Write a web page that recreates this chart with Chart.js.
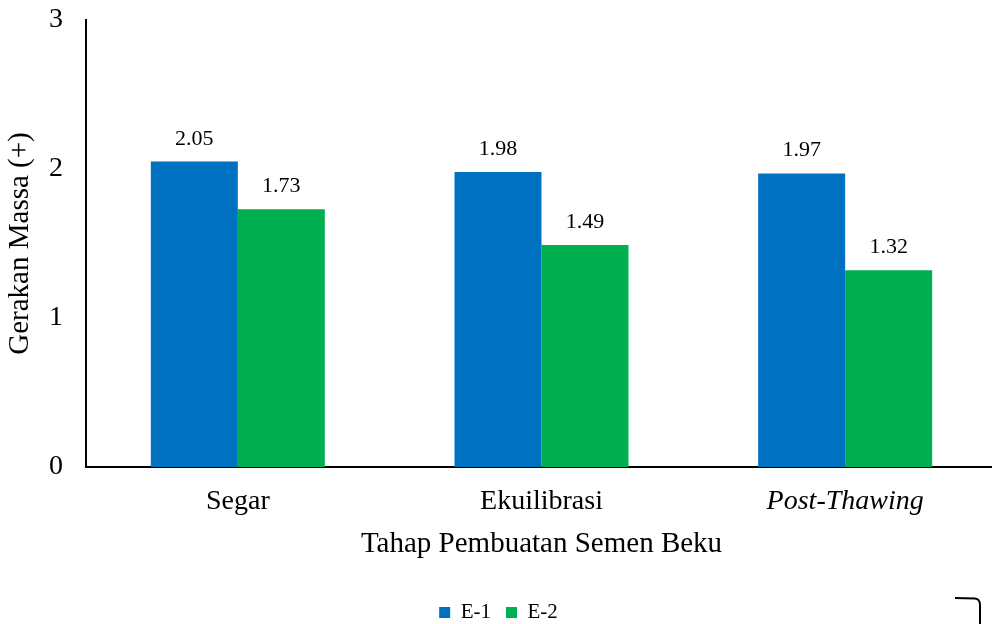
<!DOCTYPE html>
<html>
<head>
<meta charset="utf-8">
<script src="https://cdn.jsdelivr.net/npm/chart.js@4"></script>
<style>
  html, body { margin: 0; padding: 0; background: #fff; overflow: hidden; }
  #wrap { width: 1000px; height: 634px; position: relative; }
</style>
</head>
<body>
<div id="wrap"><canvas id="c"></canvas></div>
<script>
const categories = ['Segar', 'Ekuilibrasi', 'Post-Thawing'];
const italicCategories = ['Post-Thawing'];
const seriesNames = ['E-1', 'E-2'];
const seriesE1 = [2.05, 1.98, 1.97];
const seriesE2 = [1.73, 1.49, 1.32];
const yTicks = [0, 1, 2, 3];
const colors = ['#0070C0', '#00B050'];

const FONT = "'Liberation Serif', 'Times New Roman', serif";

const dataLabels = {
  id: 'dataLabels',
  afterDatasetsDraw(chart) {
    const ctx = chart.ctx;
    ctx.save();
    ctx.font = '22px ' + FONT;
    ctx.fillStyle = '#000';
    ctx.textAlign = 'center';
    ctx.textBaseline = 'alphabetic';
    chart.data.datasets.forEach((ds, di) => {
      const meta = chart.getDatasetMeta(di);
      meta.data.forEach((el, i) => {
        ctx.fillText(ds.data[i].toFixed(2), el.x, el.y - 17);
      });
    });
    ctx.restore();
  }
};

const cornerMark = {
  id: 'cornerMark',
  afterDraw(chart) {
    const ctx = chart.ctx;
    ctx.save();
    ctx.strokeStyle = '#000';
    ctx.lineWidth = 2;
    ctx.beginPath();
    ctx.moveTo(955, 598);
    ctx.lineTo(975, 598.5);
    ctx.quadraticCurveTo(980, 599, 980, 605);
    ctx.lineTo(980, 634);
    ctx.stroke();
    ctx.restore();
  }
};

new Chart(document.getElementById('c'), {
  type: 'bar',
  data: {
    labels: categories,
    datasets: [
      { label: seriesNames[0], data: seriesE1, backgroundColor: colors[0], borderWidth: 0,
        categoryPercentage: 0.573, barPercentage: 1.0 },
      { label: seriesNames[1], data: seriesE2, backgroundColor: colors[1], borderWidth: 0,
        categoryPercentage: 0.573, barPercentage: 1.0 }
    ]
  },
  options: {
    responsive: true,
    maintainAspectRatio: false,
    animation: false,
    devicePixelRatio: 1,
    layout: { padding: { top: 20, right: 3, bottom: 1, left: 0 } },
    plugins: {
      legend: {
        position: 'bottom',
        labels: {
          font: { family: FONT, size: 21 },
          color: '#000',
          boxWidth: 11,
          boxHeight: 11,
          padding: 15
        }
      },
      tooltip: { enabled: false }
    },
    scales: {
      x: {
        grid: { display: false, drawTicks: false },
        border: { display: true, color: '#000', width: 2 },
        ticks: {
          color: '#000',
          padding: 18,
          font: (c) => ({ family: FONT, size: 28,
            style: italicCategories.includes(categories[c.index]) ? 'italic' : 'normal' })
        },
        title: {
          display: true,
          text: 'Tahap Pembuatan Semen Beku',
          color: '#000',
          font: { family: FONT, size: 29 },
          padding: { top: 0, bottom: 25 }
        },
        afterFit(scale) {
          scale.height = 120;
          scale.paddingLeft = 0; scale.paddingRight = 0;
        }
      },
      y: {
        min: 0,
        max: 3,
        grid: { display: false, drawTicks: false },
        border: { display: true, color: '#000', width: 2 },
        afterBuildTicks(scale) { scale.ticks = yTicks.map(v => ({ value: v })); },
        ticks: {
          color: '#000',
          padding: 23,
          font: { family: FONT, size: 28 },
          callback: (v) => String(v)
        },
        title: {
          display: true,
          text: 'Gerakan Massa (+)',
          color: '#000',
          font: { family: FONT, size: 29 },
          padding: { top: 3, bottom: 0 }
        },
        afterFit(scale) {
          scale.width = 86;
          scale.paddingTop = 0; scale.paddingBottom = 0;
        }
      }
    }
  },
  plugins: [dataLabels, cornerMark]
});
</script>
</body>
</html>
